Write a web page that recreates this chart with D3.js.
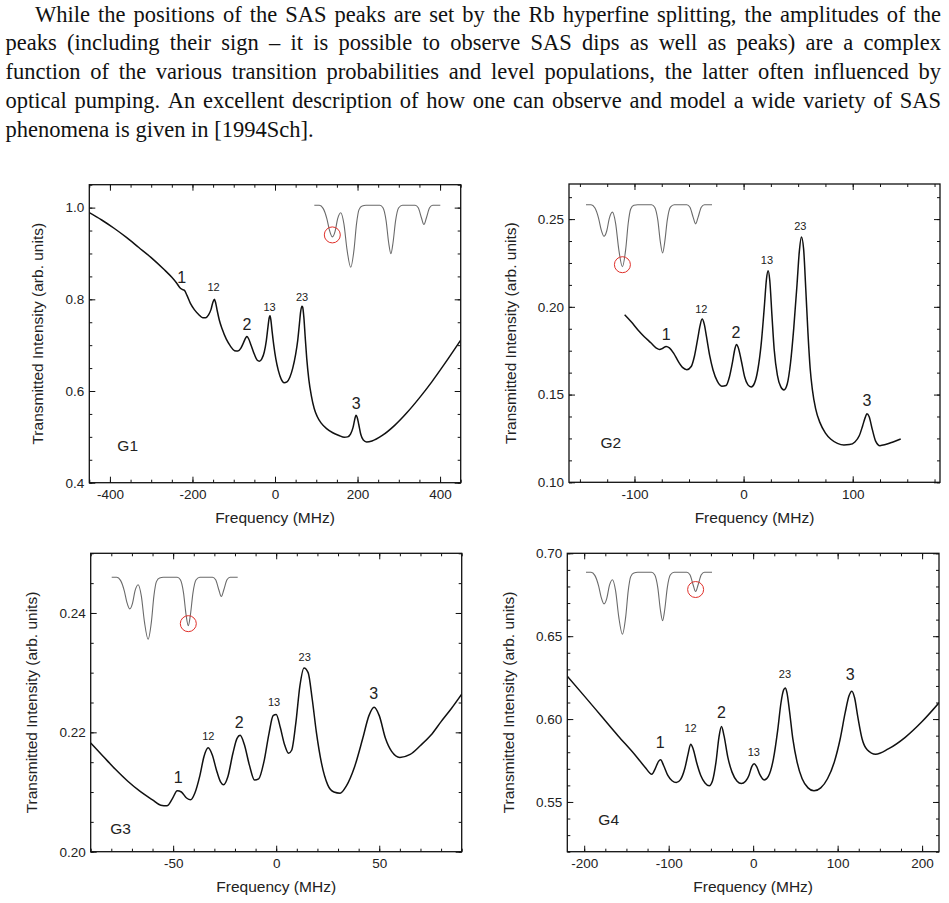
<!DOCTYPE html>
<html>
<head>
<meta charset="utf-8">
<script src="https://cdn.jsdelivr.net/npm/d3@7"></script>
<style>
  body { margin: 0; background: #fff; }
</style>
</head>
<body>
<svg id="fig" width="949" height="903"></svg>
<script>
// texte au-dessus des graphes
const paraLines = [
  "While the positions of the SAS peaks are set by the Rb hyperfine splitting, the amplitudes of the",
  "peaks (including their sign \u2013 it is possible to observe SAS dips as well as peaks) are a complex",
  "function of the various transition probabilities and level populations, the latter often influenced by",
  "optical pumping. An excellent description of how one can observe and model a wide variety of SAS",
  "phenomena is given in [1994Sch]."
];

// courbes : [fréquence MHz, intensité]
const g1Curve = [[-450,0.989],[-420,0.973],[-390,0.955],[-360,0.935],[-330,0.913],[-300,0.891],[-270,0.866],[-250,0.848],[-238,0.835],[-231,0.826],[-226,0.822],[-220,0.820],[-213,0.808],[-205,0.791],[-195,0.777],[-185,0.767],[-175,0.760],[-168,0.760],[-161,0.766],[-155,0.778],[-151,0.792],[-147,0.800],[-144,0.793],[-140,0.775],[-135,0.755],[-128,0.735],[-118,0.713],[-108,0.698],[-98,0.688],[-90,0.687],[-83,0.693],[-76,0.706],[-71,0.716],[-68,0.719],[-64,0.714],[-58,0.700],[-50,0.680],[-43,0.667],[-38,0.665],[-32,0.670],[-26,0.685],[-21,0.710],[-17,0.740],[-14,0.760],[-12,0.764],[-10,0.755],[-7,0.730],[-3,0.700],[2,0.670],[8,0.645],[15,0.626],[22,0.618],[29,0.620],[36,0.630],[43,0.650],[50,0.680],[55,0.710],[59,0.745],[62,0.772],[65,0.785],[67,0.783],[70,0.760],[73,0.720],[77,0.670],[82,0.625],[88,0.590],[95,0.562],[102,0.545],[112,0.530],[125,0.518],[140,0.509],[155,0.503],[168,0.499],[176,0.500],[183,0.506],[189,0.520],[193,0.537],[196,0.547],[199,0.543],[203,0.527],[208,0.505],[214,0.493],[222,0.489],[235,0.491],[260,0.503],[290,0.525],[320,0.553],[350,0.585],[380,0.620],[410,0.658],[450,0.711]];

const g2Curve = [[-109,0.1955],[-103,0.1915],[-97,0.1870],[-91,0.1830],[-85,0.1795],[-80,0.1765],[-77,0.1757],[-74,0.1764],[-71,0.1774],[-68,0.1766],[-64,0.1735],[-60,0.1690],[-56,0.1655],[-52,0.1642],[-48,0.1660],[-45,0.1720],[-42,0.1820],[-40,0.1890],[-38,0.1930],[-36,0.1900],[-34,0.1830],[-31,0.1720],[-28,0.1640],[-24,0.1575],[-20,0.1548],[-16,0.1552],[-13,0.1600],[-10,0.1690],[-8,0.1760],[-6.5,0.1785],[-5,0.1770],[-2,0.1690],[1,0.1600],[4,0.1555],[7,0.1543],[10,0.1565],[13,0.1640],[16,0.1780],[19,0.2000],[21,0.2160],[22.5,0.2205],[24,0.2150],[26,0.1950],[28,0.1760],[31,0.1610],[34,0.1545],[37,0.1526],[40,0.1560],[43,0.1680],[46,0.1880],[49,0.2130],[51,0.2310],[53,0.2398],[55,0.2330],[57,0.2100],[59,0.1850],[61,0.1650],[63,0.1530],[66,0.1420],[70,0.1340],[75,0.1280],[80,0.1245],[86,0.1222],[92,0.1213],[97,0.1215],[102,0.1230],[106,0.1265],[109,0.1320],[111.5,0.1370],[113,0.1390],[115,0.1375],[118,0.1300],[121,0.1235],[125,0.1209],[130,0.1215],[137,0.1230],[144,0.1247]];

const g3Curve = [[-90,0.2182],[-84,0.2160],[-78,0.2138],[-72,0.2118],[-66,0.2101],[-60,0.2087],[-56,0.2078],[-53,0.2077],[-50.5,0.2088],[-48,0.2102],[-46,0.2100],[-43.5,0.2090],[-41.5,0.2087],[-39.5,0.2098],[-37,0.2128],[-35,0.2160],[-33,0.2174],[-31,0.2162],[-29,0.2137],[-27,0.2117],[-25.5,0.2112],[-23.5,0.2125],[-21,0.2165],[-19,0.2190],[-17.5,0.2195],[-15.5,0.2180],[-13,0.2145],[-10.5,0.2120],[-8.5,0.2122],[-6,0.2150],[-3.5,0.2198],[-1.5,0.2228],[0,0.2230],[2,0.2208],[4,0.2180],[6,0.2165],[7.5,0.2170],[9.5,0.2215],[11.5,0.2278],[13.5,0.2308],[15.5,0.2300],[17.5,0.2255],[19.5,0.2200],[22,0.2148],[25,0.2112],[28,0.2100],[31,0.2098],[34,0.2110],[38,0.2142],[42,0.2190],[45,0.2228],[47.5,0.2242],[50,0.2228],[53,0.2190],[56,0.2168],[60,0.2158],[65,0.2163],[70,0.2178],[75,0.2195],[80,0.2218],[85,0.2240],[90,0.2264]];

const g4Curve = [[-220,0.6259],[-200,0.6140],[-180,0.6020],[-160,0.5900],[-140,0.5785],[-128,0.5710],[-120,0.5667],[-116,0.5700],[-112,0.5745],[-109.5,0.5754],[-106,0.5720],[-101,0.5660],[-96,0.5628],[-91,0.5617],[-86,0.5635],[-81,0.5700],[-77,0.5790],[-74,0.5848],[-71,0.5820],[-67,0.5740],[-62,0.5660],[-57,0.5615],[-52,0.5598],[-48,0.5630],[-44,0.5740],[-40.5,0.5890],[-37.5,0.5955],[-34.5,0.5900],[-30,0.5770],[-25,0.5680],[-19,0.5625],[-14,0.5611],[-9,0.5625],[-5,0.5660],[-1.5,0.5715],[1.2,0.5731],[4,0.5715],[8,0.5665],[13,0.5633],[18,0.5655],[24,0.5760],[29,0.5930],[33,0.6100],[36,0.6175],[38,0.6188],[40,0.6160],[43,0.6050],[47,0.5880],[52,0.5740],[58,0.5640],[65,0.5585],[72,0.5567],[80,0.5585],[88,0.5640],[96,0.5740],[103,0.5880],[109,0.6040],[113.5,0.6140],[116.8,0.6168],[120,0.6130],[124,0.6010],[129,0.5880],[135,0.5815],[145,0.5788],[160,0.5820],[180,0.5890],[200,0.5985],[220,0.6098]];

// noms des pics et leur position (fréquence, intensité)
const peakNames = ["1", "12", "2", "13", "23", "3"];
const g1LabelPos = [[-226,0.8475],[-149,0.826],[-68,0.745],[-13,0.784],[65.6,0.804],[196.8,0.574]];
const g2LabelPos = [[-71,0.1842],[-38.8,0.1989],[-7,0.1855],[21.4,0.2264],[52,0.246],[113.1,0.1468]];
const g3LabelPos = [[-47.5,0.2124],[-32.9,0.2193],[-18,0.2217],[-1,0.225],[13.8,0.2327],[47.3,0.2265]];
const g4LabelPos = [[-110,0.5862],[-74,0.5944],[-37.6,0.6042],[0.8,0.5804],[37.6,0.6273],[114.9,0.6273]];

// ticks avec étiquette
const g1XTicks = [-400, -200, 0, 200, 400], g1YTicks = [0.4, 0.6, 0.8, 1.0];
const g2XTicks = [-100, 0, 100],            g2YTicks = [0.10, 0.15, 0.20, 0.25];
const g3XTicks = [-50, 0, 50],              g3YTicks = [0.20, 0.22, 0.24];
const g4XTicks = [-200, -100, 0, 100, 200], g4YTicks = [0.55, 0.60, 0.65, 0.70];

// petit spectre Doppler en médaillon (position relative 0..1, profondeur 0..1)
const insetCurve = [[0,0],[0.04,0],[0.07,0.05],[0.10,0.22],[0.12,0.40],[0.143,0.51],[0.165,0.42],[0.185,0.22],[0.21,0.12],[0.235,0.30],[0.26,0.72],[0.289,1.0],[0.315,0.72],[0.335,0.30],[0.355,0.07],[0.38,0.01],[0.41,0],[0.52,0],[0.545,0.04],[0.57,0.25],[0.59,0.60],[0.608,0.78],[0.625,0.60],[0.645,0.25],[0.67,0.04],[0.70,0],[0.80,0],[0.825,0.04],[0.85,0.20],[0.870,0.31],[0.89,0.20],[0.915,0.04],[0.94,0],[1,0]];
const insetDips = [[0.143,0.51],[0.289,1.0],[0.608,0.78],[0.870,0.31]];

const panels = [
  { tag: "G1", curve: g1Curve, labels: g1LabelPos, tagPos: [-357, 0.482],
    box: [89.3, 184.7, 460.7, 482.7], xDom: [-450, 450], yDom: [0.4, 1.05],
    xTicks: g1XTicks, yTicks: g1YTicks, xMinor: 50, yMinor: 0.05, yFmt: ".1f",
    titleOff: 46, insetAt: [225, 20.6], dip: 0 },
  { tag: "G2", curve: g2Curve, labels: g2LabelPos, tagPos: [-121.7, 0.1228],
    box: [569, 184, 940, 482.3], xDom: [-160, 180], yDom: [0.10, 0.27],
    xTicks: g2XTicks, yTicks: g2YTicks, xMinor: 25, yMinor: 0.0125, yFmt: ".2f",
    titleOff: 53.5, insetAt: [17, 20.7], dip: 1 },
  { tag: "G3", curve: g3Curve, labels: g3LabelPos, tagPos: [-75.5, 0.2039],
    box: [90.7, 553.3, 461.7, 851.7], xDom: [-90, 90], yDom: [0.20, 0.25],
    xTicks: g3XTicks, yTicks: g3YTicks, xMinor: 10, yMinor: 0.005, yFmt: ".2f",
    titleOff: 53.5, insetAt: [21, 24], dip: 2 },
  { tag: "G4", curve: g4Curve, labels: g4LabelPos, tagPos: [-171, 0.5397],
    box: [567.3, 553.3, 939, 851.7], xDom: [-220, 220], yDom: [0.52, 0.70],
    xTicks: g4XTicks, yTicks: g4YTicks, xMinor: 25, yMinor: 0.01, yFmt: ".2f",
    titleOff: 53.5, insetAt: [18.7, 19], dip: 3 }
];

const svg = d3.select("#fig");
const sans = "'Liberation Sans', Arial, sans-serif";

// paragraphe justifié, ligne par ligne
const para = svg.append("g")
  .attr("font-family", "'Liberation Serif', 'Times New Roman', serif")
  .attr("font-size", 22.5)
  .attr("fill", "#111");

paraLines.forEach((line, i) => {
  const x0 = i === 0 ? 35 : 5.5;
  const x1 = 941;
  const t = para.append("text").attr("y", 21.7 + i * 28.75);
  if (i === paraLines.length - 1) {
    t.attr("x", x0).text(line);
    return;
  }
  const words = line.split(" ");
  const spans = words.map(w => t.append("tspan").text(w));
  const widths = spans.map(s => s.node().getComputedTextLength());
  const gap = (x1 - x0 - d3.sum(widths)) / (words.length - 1);
  let x = x0;
  spans.forEach((s, j) => { s.attr("x", x); x += widths[j] + gap; });
});

const minus = s => s.replace("\u2212", "-");

panels.forEach((p, k) => {
  const [L, T, R, B] = p.box;
  const x = d3.scaleLinear().domain(p.xDom).range([L, R]);
  const y = d3.scaleLinear().domain(p.yDom).range([B, T]);
  const g = svg.append("g");

  const clipId = "clip" + k;
  g.append("clipPath").attr("id", clipId)
    .append("rect").attr("x", L).attr("y", T).attr("width", R - L).attr("height", B - T);

  // ticks mineurs puis majeurs, vers l'intérieur sur les 4 côtés
  const xMinorVals = d3.range(Math.ceil(p.xDom[0] / p.xMinor) * p.xMinor, p.xDom[1] + 1e-9, p.xMinor);
  const yMinorVals = d3.range(Math.ceil(p.yDom[0] / p.yMinor - 1e-6) * p.yMinor, p.yDom[1] + 1e-9, p.yMinor);

  const addAxis = (axis, tx, ty) => {
    const a = g.append("g").attr("transform", `translate(${tx},${ty})`).call(axis);
    a.select(".domain").remove();
    a.selectAll("line").attr("stroke", "#111");
    a.selectAll("text").attr("font-family", sans).attr("font-size", 13.5).attr("fill", "#222");
    return a;
  };

  addAxis(d3.axisBottom(x).tickValues(xMinorVals).tickSize(-3).tickFormat(""), 0, B);
  addAxis(d3.axisTop(x).tickValues(xMinorVals).tickSize(-3).tickFormat(""), 0, T);
  addAxis(d3.axisLeft(y).tickValues(yMinorVals).tickSize(-3).tickFormat(""), L, 0);
  addAxis(d3.axisRight(y).tickValues(yMinorVals).tickSize(-3).tickFormat(""), R, 0);

  addAxis(d3.axisBottom(x).tickValues(p.xTicks).tickSize(-6).tickPadding(7)
    .tickFormat(d => minus(String(d))), 0, B);
  addAxis(d3.axisTop(x).tickValues(p.xTicks).tickSize(-6).tickFormat(""), 0, T);
  addAxis(d3.axisLeft(y).tickValues(p.yTicks).tickSize(-6).tickPadding(5)
    .tickFormat(d => minus(d3.format(p.yFmt)(d))), L, 0);
  addAxis(d3.axisRight(y).tickValues(p.yTicks).tickSize(-6).tickFormat(""), R, 0);

  g.append("rect")
    .attr("x", L).attr("y", T).attr("width", R - L).attr("height", B - T)
    .attr("fill", "none").attr("stroke", "#111").attr("stroke-width", 1.3);

  // la courbe
  g.append("path")
    .datum(p.curve)
    .attr("clip-path", `url(#${clipId})`)
    .attr("fill", "none")
    .attr("stroke", "#111")
    .attr("stroke-width", 1.5)
    .attr("d", d3.line().x(d => x(d[0])).y(d => y(d[1])).curve(d3.curveMonotoneX));

  // étiquettes des pics
  g.selectAll("text.peak")
    .data(p.labels)
    .enter().append("text")
    .attr("class", "peak")
    .attr("x", d => x(d[0]))
    .attr("y", d => y(d[1]))
    .attr("dy", "0.36em")
    .attr("text-anchor", "middle")
    .attr("font-family", sans)
    .attr("font-size", (d, i) => peakNames[i].length > 1 ? 11 : 16)
    .attr("fill", "#222")
    .text((d, i) => peakNames[i]);

  g.append("text")
    .attr("x", x(p.tagPos[0])).attr("y", y(p.tagPos[1])).attr("dy", "0.36em")
    .attr("text-anchor", "middle")
    .attr("font-family", sans).attr("font-size", 15.5).attr("fill", "#222")
    .text(p.tag);

  // médaillon
  const ix = d3.scaleLinear().domain([0, 1]).range([L + p.insetAt[0], L + p.insetAt[0] + 126]);
  const iy = d3.scaleLinear().domain([0, 1]).range([T + p.insetAt[1], T + p.insetAt[1] + 62]);
  g.append("path")
    .datum(insetCurve)
    .attr("fill", "none")
    .attr("stroke", "#6a6a6a")
    .attr("stroke-width", 1.1)
    .attr("d", d3.line().x(d => ix(d[0])).y(d => iy(d[1])).curve(d3.curveMonotoneX));
  const dip = insetDips[p.dip];
  g.append("circle")
    .attr("cx", ix(dip[0])).attr("cy", iy(dip[1]) - 2).attr("r", 8)
    .attr("fill", "none").attr("stroke", "#e0302a").attr("stroke-width", 1);

  // titres des axes
  g.append("text")
    .attr("x", (L + R) / 2).attr("y", B + 40.7)
    .attr("text-anchor", "middle")
    .attr("font-family", sans).attr("font-size", 15.5).attr("fill", "#222")
    .text("Frequency (MHz)");
  g.append("text")
    .attr("transform", `translate(${L - p.titleOff},${(T + B) / 2}) rotate(-90)`)
    .attr("text-anchor", "middle")
    .attr("font-family", sans).attr("font-size", 15.5).attr("fill", "#222")
    .text("Transmitted Intensity (arb. units)");
});
</script>
</body>
</html>
